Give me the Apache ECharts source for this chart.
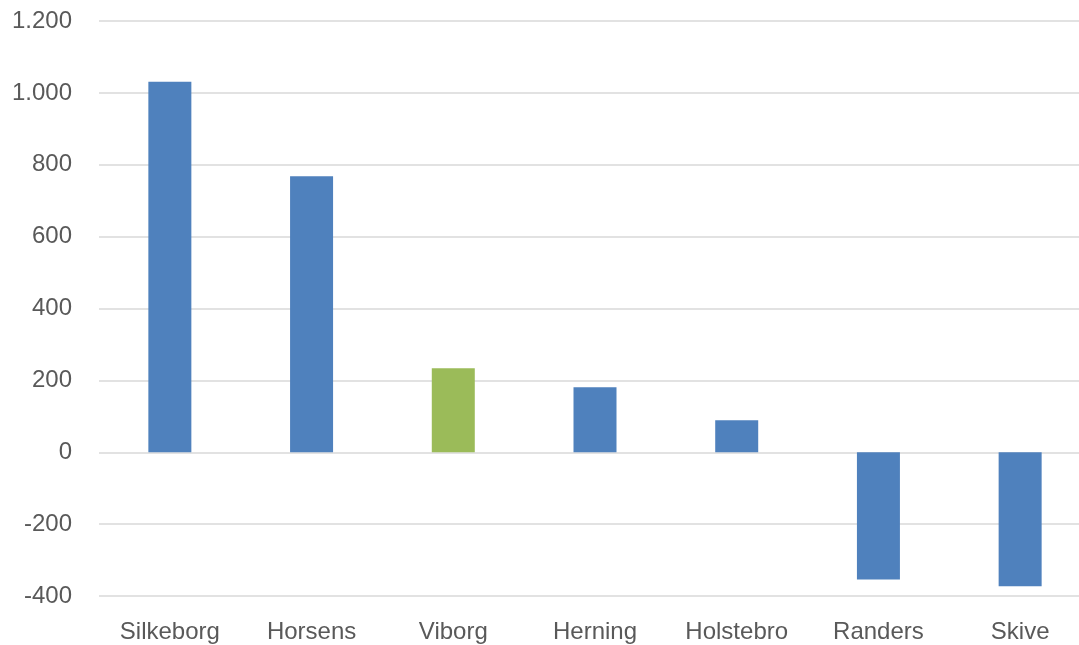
<!DOCTYPE html>
<html>
<head>
<meta charset="utf-8">
<script src="https://cdn.jsdelivr.net/npm/echarts@6/dist/echarts.min.js"></script>
<style>html,body{margin:0;padding:0;background:#fff;overflow:hidden;}#c{width:1079px;height:645px;}</style>
</head>
<body>
<div id="c"></div>
<script>
const categories = ['Silkeborg', 'Horsens', 'Viborg', 'Herning', 'Holstebro', 'Randers', 'Skive'];
const values = [1031, 768, 234, 181, 89, -354, -373];
const highlight = 'Viborg';
const yTicks = [-400, 1200, 200];

const chart = echarts.init(document.getElementById('c'));
chart.setOption({
  animation: false,
  grid: { left: 99, width: 992, top: 21, bottom: 49, containLabel: false, outerBoundsMode: 'none' },
  xAxis: {
    type: 'category',
    data: categories,
    position: 'bottom',
    axisLine: { show: false },
    axisTick: { show: false },
    axisLabel: { color: '#595959', fontSize: 24, fontFamily: 'Liberation Sans', margin: 24, interval: 0 },
    offset: 0
  },
  yAxis: {
    type: 'value',
    min: yTicks[0], max: yTicks[1], interval: yTicks[2],
    axisLine: { show: false },
    axisTick: { show: false },
    splitLine: { lineStyle: { color: '#d9d9d9', width: 1.5 } },
    axisLabel: {
      color: '#595959', fontSize: 24, fontFamily: 'Liberation Sans', margin: 27,
      formatter: v => {
        const s = Math.abs(v).toString().replace(/\B(?=(\d{3})+(?!\d))/g, '.');
        return (v < 0 ? '-' : '') + s;
      }
    }
  },
  series: [{
    type: 'bar',
    barWidth: 43,
    data: values.map((v, i) => ({
      value: v,
      itemStyle: { color: categories[i] === highlight ? '#9BBB59' : '#4F81BD' }
    }))
  }]
});
</script>
</body>
</html>
